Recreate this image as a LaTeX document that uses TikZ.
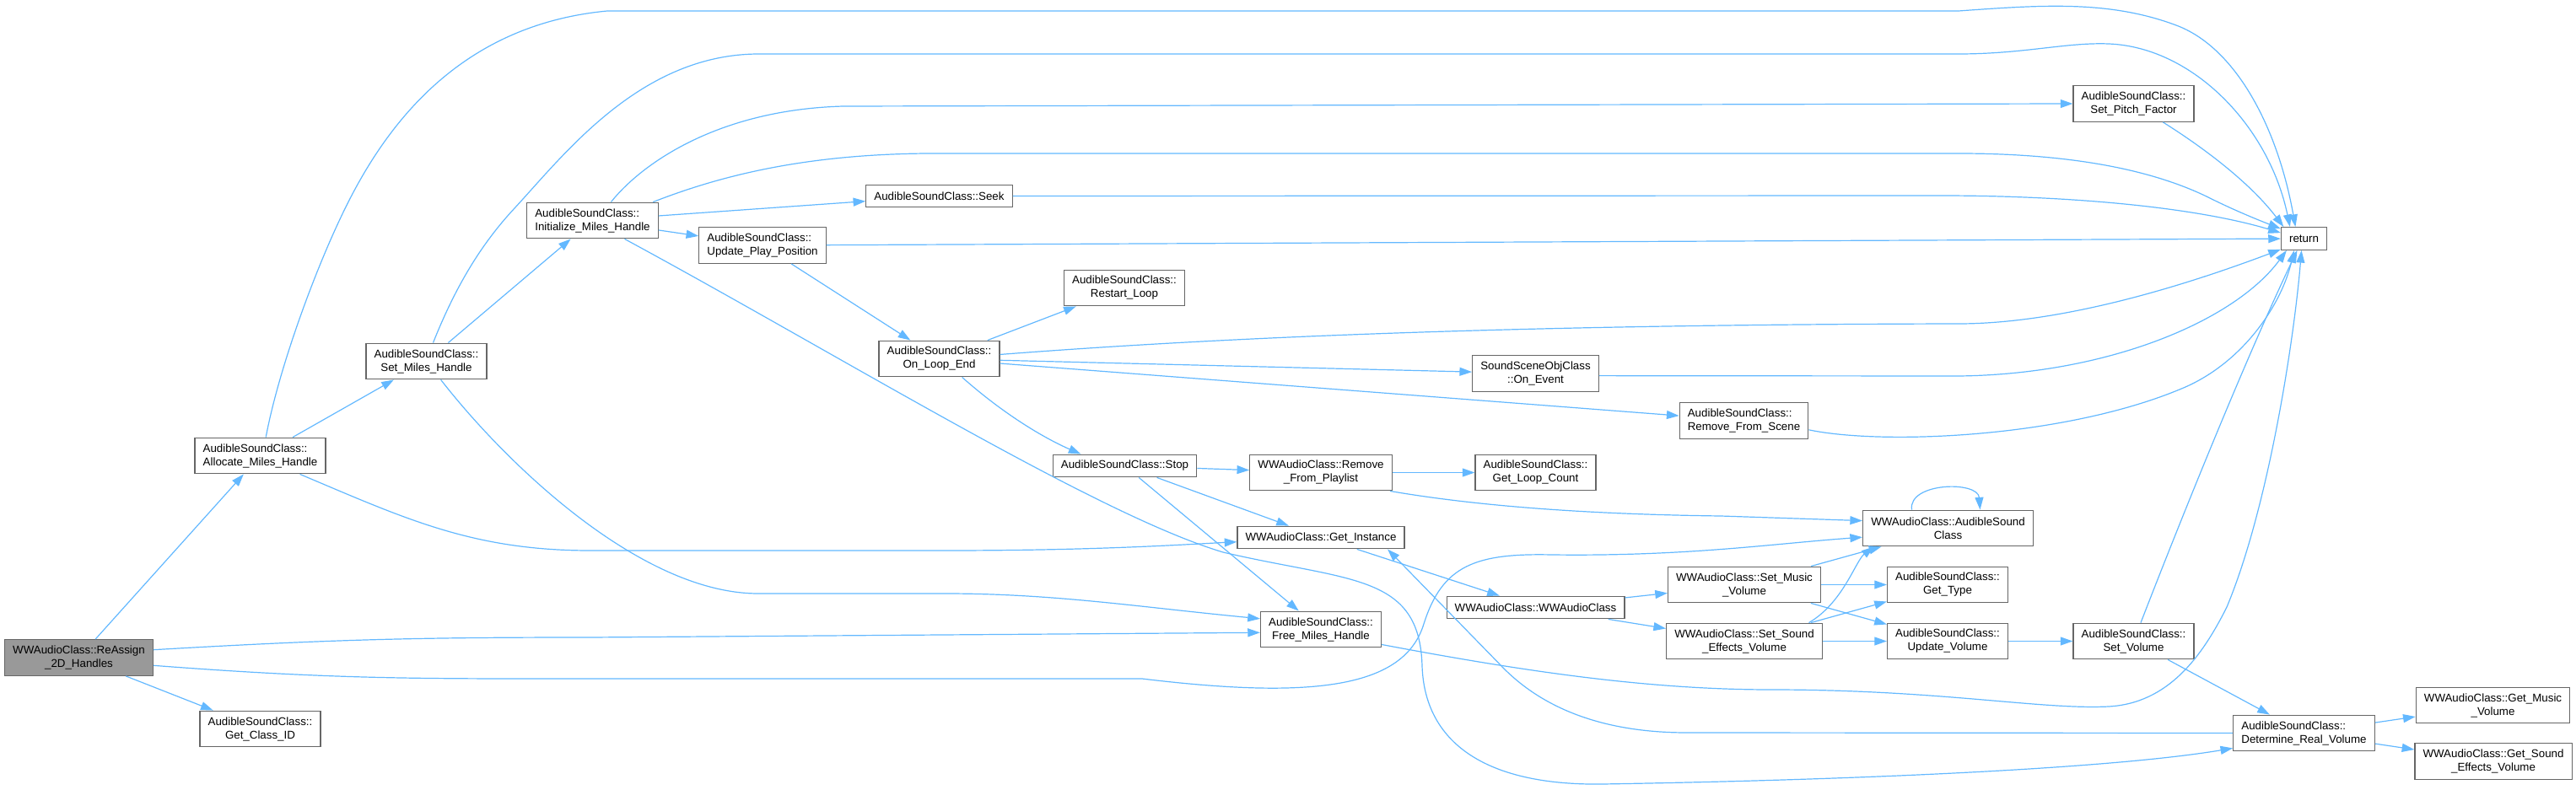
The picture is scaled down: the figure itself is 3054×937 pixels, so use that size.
\documentclass[tikz,border=0pt]{standalone}
\usepackage{fontspec}
\setmainfont{Liberation Sans}
\usetikzlibrary{arrows.meta}
\definecolor{callblue}{HTML}{63B8FF}
\definecolor{boxgray}{HTML}{666666}
\definecolor{maingray}{HTML}{999999}
\tikzset{
	fn/.style={draw=boxgray, line width=0.9pt, fill=white, inner xsep=7.2pt, inner ysep=2pt, minimum height=32pt, align=center},
	fnleft/.style={fn, align=left},
	fnone/.style={fn, minimum height=20pt},
	fnmain/.style={fn, fill=maingray},
	call/.style={->, draw=callblue, line width=0.9pt}
}
\begin{document}
\begin{tikzpicture}[x=0.75pt, y=-0.75pt, >={Triangle[length=11pt,width=7.5pt]}, font=\fontsize{10pt}{12pt}\selectfont]
		\useasboundingbox (0,0) rectangle (3054,937);
		% functions
		\node[fnmain] (reassign) at (93.5,780) {WWAudioClass::ReAssign\\\_2D\_Handles};
		\node[fnleft] (allocate) at (308.5,540.5) {AudibleSoundClass::\\Allocate\_Miles\_Handle};
		\node[fn] (classid) at (308.5,864.5) {AudibleSoundClass::\\Get\_Class\_ID};
		\node[fn] (setmiles) at (505.5,428.5) {AudibleSoundClass::\\Set\_Miles\_Handle};
		\node[fnleft] (init) at (702.5,261.5) {AudibleSoundClass::\\Initialize\_Miles\_Handle};
		\node[fnleft] (updplay) at (904,291) {AudibleSoundClass::\\Update\_Play\_Position};
		\node[fnone] (seek) at (1113.5,232.5) {AudibleSoundClass::Seek};
		\node[fn] (restart) at (1333,341.5) {AudibleSoundClass::\\Restart\_Loop};
		\node[fn] (loopend) at (1113.5,425.5) {AudibleSoundClass::\\On\_Loop\_End};
		\node[fn] (onevent) at (1820.5,443) {SoundSceneObjClass\\::On\_Event};
		\node[fnleft] (remscene) at (2067.5,499) {AudibleSoundClass::\\Remove\_From\_Scene};
		\node[fn] (pitch) at (2529.5,123) {AudibleSoundClass::\\Set\_Pitch\_Factor};
		\node[fnone] (ret) at (2731.5,283) {return};
		\node[fnone] (stop) at (1333.5,552.5) {AudibleSoundClass::Stop};
		\node[fn] (remplay) at (1566,560.5) {WWAudioClass::Remove\\\_From\_Playlist};
		\node[fn] (loopcount) at (1820.5,560.5) {AudibleSoundClass::\\Get\_Loop\_Count};
		\node[fnone] (getinst) at (1566,637.5) {WWAudioClass::Get\_Instance};
		\node[fn] (freemiles) at (1566,746.5) {AudibleSoundClass::\\Free\_Miles\_Handle};
		\node[fnone] (wwaudio) at (1820.5,720.5) {WWAudioClass::WWAudioClass};
		\node[fn] (setmusic) at (2068,693.5) {WWAudioClass::Set\_Music\\\_Volume};
		\node[fn] (setsound) at (2068,760.5) {WWAudioClass::Set\_Sound\\\_Effects\_Volume};
		\node[fn] (audsnd) at (2309.5,626.5) {WWAudioClass::AudibleSound\\Class};
		\node[fn] (gettype) at (2309,693.5) {AudibleSoundClass::\\Get\_Type};
		\node[fn] (updvol) at (2309,760.5) {AudibleSoundClass::\\Update\_Volume};
		\node[fn] (setvol) at (2529.5,760.5) {AudibleSoundClass::\\Set\_Volume};
		\node[fnleft] (detvol) at (2731.5,869.5) {AudibleSoundClass::\\Determine\_Real\_Volume};
		\node[fn] (getmusic) at (2955.5,836.5) {WWAudioClass::Get\_Music\\\_Volume};
		\node[fn] (getsound) at (2956,903) {WWAudioClass::Get\_Sound\\\_Effects\_Volume};
		% calls from ReAssign_2D_Handles
		\draw[call] (reassign) -- (allocate);
		\draw[call] (reassign) -- (classid);
		\draw[call] (reassign.6) .. controls (400,758) and (500,756) .. (700,756) -- (freemiles.183);
		\draw[call] (reassign.354) .. controls (400,806) and (500,805) .. (700,805) -- (1354,805) .. controls (1560,830) and (1665,815) .. (1688,740) .. controls (1710,670) and (1750,656) .. (1840,658) .. controls (2000,660) and (2100,645) .. (audsnd.186);
		% calls from Allocate_Miles_Handle
		\draw[call] (allocate) -- (setmiles);
		\draw[call] (allocate.-25) .. controls (480,615) and (560,653) .. (700,653) -- (1120,653) .. controls (1300,653) and (1400,646) .. (getinst.183);
		\draw[call] (allocate.73) .. controls (330,440) and (370,330) .. (403,260) .. controls (452,155) and (540,30) .. (720,13) -- (2322,13) .. controls (2420,6) and (2500,0) .. (2580,30) .. controls (2650,56) and (2700,150) .. (ret.126);
		% calls from Set_Miles_Handle
		\draw[call] (setmiles) -- (init);
		\draw[call] (setmiles.70) .. controls (540,340) and (570,290) .. (610,247) .. controls (670,182) and (760,64) .. (900,64) -- (2322,64) .. controls (2400,64) and (2450,50) .. (2500,52) .. controls (2600,56) and (2690,150) .. (ret.140);
		\draw[call] (setmiles.-52) .. controls (600,550) and (760,704) .. (899,704) -- (1120,704) .. controls (1250,704) and (1350,720) .. (freemiles.170);
		% calls from Initialize_Miles_Handle
		\draw[call] (init.45) .. controls (760,195) and (850,130) .. (1000,126) -- (pitch.west);
		\draw[call] (init.17) .. controls (850,210) and (950,183) .. (1100,182) -- (2322,182) .. controls (2450,182) and (2550,200) .. (2620,235) .. controls (2650,250) and (2680,262) .. (ret.157);
		\draw[call] (init) -- (seek);
		\draw[call] (init) -- (updplay);
		\draw[call] (init.-30) .. controls (1000,424) and (1300,610) .. (1450,655) .. controls (1600,690) and (1683,680) .. (1686,790) .. controls (1689,880) and (1760,932) .. (1900,930) .. controls (2200,925) and (2500,912) .. (detvol.192);
		% calls from Update_Play_Position and Seek
		\draw[call] (updplay) -- (ret);
		\draw[call] (updplay) -- (loopend);
		\draw[call] (seek.east) -- (2300,232) .. controls (2450,232) and (2600,245) .. (ret.166);
		% calls from On_Loop_End
		\draw[call] (loopend) -- (restart);
		\draw[call] (loopend.4) .. controls (1450,400) and (1800,385) .. (2322,384) .. controls (2450,384) and (2600,335) .. (ret.205);
		\draw[call] (loopend) -- (onevent);
		\draw[call] (loopend) -- (remscene);
		\draw[call] (loopend.-39) .. controls (1200,500) and (1250,525) .. (stop.165);
		\draw[call] (onevent.-2) -- (2322,446) .. controls (2500,444) and (2650,380) .. (ret.214);
		\draw[call] (remscene.-8) .. controls (2230,528) and (2450,520) .. (2591,459) .. controls (2661,428) and (2705,360) .. (ret.230);
		\draw[call] (pitch) .. controls (2620,180) and (2670,220) .. (ret.150);
		% calls from Stop and Remove_From_Playlist
		\draw[call] (stop) -- (remplay);
		\draw[call] (stop) -- (getinst);
		\draw[call] (stop) -- (freemiles);
		\draw[call] (remplay) -- (loopcount);
		\draw[call] (remplay.-15) .. controls (1750,600) and (1880,610) .. (2040,612) -- (audsnd.175);
		% calls from Get_Instance and WWAudioClass
		\draw[call] (getinst) -- (wwaudio);
		\draw[call] (wwaudio) -- (setmusic);
		\draw[call] (wwaudio) -- (setsound);
		\draw[call] (setmusic) -- (audsnd);
		\draw[call] (setmusic) -- (gettype);
		\draw[call] (setmusic) -- (updvol);
		\draw[call] (setsound) -- (gettype);
		\draw[call] (setsound) -- (updvol);
		\draw[call] (setsound.16) .. controls (2185,715) and (2200,665) .. (audsnd.194);
		\draw[call] (audsnd.153) .. controls (2262,572) and (2345,570) .. (audsnd.30);
		% volume chain
		\draw[call] (updvol) -- (setvol);
		\draw[call] (setvol) .. controls (2580,630) and (2660,430) .. (ret.240);
		\draw[call] (setvol) -- (detvol);
		\draw[call] (detvol) -- (getmusic);
		\draw[call] (detvol) -- (getsound);
		\draw[call] (detvol.west) -- (2000,869) .. controls (1900,869) and (1830,840) .. (1783,793) -- (getinst.-10);
		% Free_Miles_Handle
		\draw[call] (freemiles.-14) .. controls (1800,795) and (1950,818) .. (2100,818) .. controls (2300,818) and (2420,842) .. (2500,838) .. controls (2570,834) and (2610,780) .. (2640,720) .. controls (2690,600) and (2720,400) .. (ret.258);
	\end{tikzpicture}
\end{document}
